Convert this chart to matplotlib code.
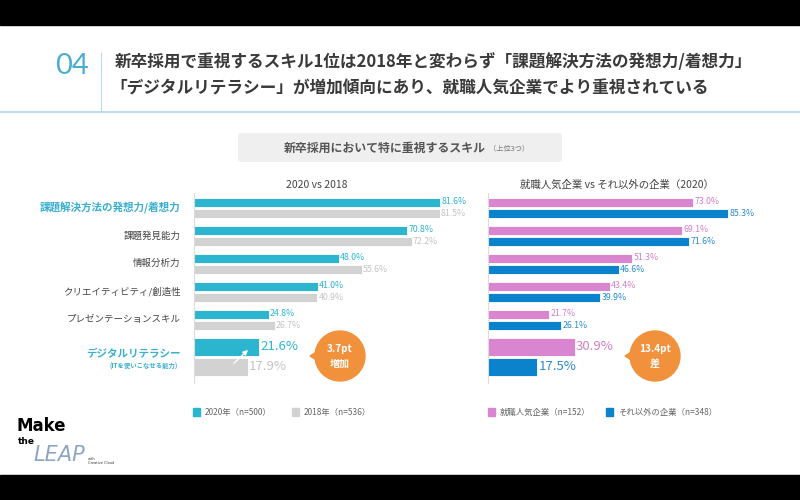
import numpy as np
import matplotlib.pyplot as plt
from matplotlib.patches import FancyBboxPatch, Circle, Polygon, Rectangle

plt.rcParams['font.family'] = ['Noto Sans CJK JP', 'DejaVu Sans']

# data
skills = ['課題解決方法の発想力/着想力', '課題発見能力', '情報分析力',
          'クリエイティビティ/創造性', 'プレゼンテーションスキル', 'デジタルリテラシー']
y2020 = [81.6, 70.8, 48.0, 41.0, 24.8, 21.6]
y2018 = [81.5, 72.2, 55.6, 40.9, 26.7, 17.9]
popular = [73.0, 69.1, 51.3, 43.4, 21.7, 30.9]
others = [85.3, 71.6, 46.6, 39.9, 26.1, 17.5]
legend_left = ['2020年（n=500）', '2018年（n=536）']
legend_right = ['就職人気企業（n=152）', 'それ以外の企業（n=348）']

TEAL = '#2cb5cf'
GRAY = '#d2d2d2'
PINK = '#d985cf'
BLUE = '#0b83cc'
ORANGE = '#f2913c'
HL = '#3aafd0'

fig = plt.figure(figsize=(8, 5), dpi=100)
bg = fig.add_axes([0, 0, 1, 1])
bg.set_xlim(0, 800)
bg.set_ylim(500, 0)
bg.axis('off')

# black letterbox
bg.add_patch(Rectangle((0, 0), 800, 25, color='black'))
bg.add_patch(Rectangle((0, 475), 800, 25, color='black'))

# header
bg.text(72, 66, '04', fontsize=21, color='#4aaed0', ha='center', va='center',
        family=['Lato', 'DejaVu Sans'])
bg.plot([101, 101], [53, 111], color='#bcdbe6', lw=0.8)
bg.text(115, 62, '新卒採用で重視するスキル1位は2018年と変わらず「課題解決方法の発想力/着想力」',
        fontsize=12, fontweight='bold', color='#3a3a3a', va='center')
bg.text(110, 89, '「デジタルリテラシー」が増加傾向にあり、就職人気企業でより重視されている',
        fontsize=12, fontweight='bold', color='#3a3a3a', va='center')
bg.plot([0, 800], [112, 112], color='#a9d8e8', lw=1.2)

# subtitle box
bg.add_patch(FancyBboxPatch((238, 133), 324, 29, boxstyle='round,pad=0,rounding_size=4',
                            fc='#efefef', ec='none'))
bg.text(486, 148, '新卒採用において特に重視するスキル', fontsize=8.6, fontweight='bold',
        color='#555555', ha='right', va='center')
bg.text(489, 149, '（上位3つ）', fontsize=5.2, color='#777777', ha='left', va='center')

bg.text(317, 185, '2020 vs 2018', fontsize=7.5, color='#444444', ha='center', va='center')
bg.text(617, 185, '就職人気企業 vs それ以外の企業（2020）', fontsize=7.5, color='#444444',
        ha='center', va='center')

# group positions (pixels from first group centre)
pos = np.arange(len(skills)) * 28.0
pos[-1] += 9.5
h = np.array([9.0] * 5 + [18.0])
off = np.array([5.5] * 5 + [10.0])


def make_axes(x0, scale):
    ax = fig.add_axes([x0 / 800, 1 - 383 / 500, 270 / 800, 190 / 500])
    ax.set_xlim(0, 270 / scale)
    ax.set_ylim(383 - 207.5, 193 - 207.5)
    ax.patch.set_alpha(0)
    for s in ['top', 'right', 'bottom']:
        ax.spines[s].set_visible(False)
    ax.spines['left'].set_color('#dddddd')
    ax.spines['left'].set_linewidth(0.8)
    ax.set_xticks([])
    ax.set_yticks([])
    return ax


def draw_pair(ax, top, bot, ctop, cbot, ltop, lbot):
    ax.barh(pos - off, top, height=h, color=ctop, edgecolor='white', linewidth=0.6)
    ax.barh(pos + off, bot, height=h, color=cbot, edgecolor='white', linewidth=0.6)
    for i in range(len(top)):
        fs = 9.5 if i == len(top) - 1 else 6.3
        ax.text(top[i] + 0.4, pos[i] - off[i], f'{top[i]:.1f}%', fontsize=fs, color=ltop,
                va='center', ha='left')
        ax.text(bot[i] + 0.4, pos[i] + off[i], f'{bot[i]:.1f}%', fontsize=fs, color=lbot,
                va='center', ha='left')


axL = make_axes(194, 3.015)
draw_pair(axL, y2020, y2018, TEAL, GRAY, TEAL, '#c4c4c4')
axR = make_axes(488, 2.814)
draw_pair(axR, popular, others, PINK, BLUE, '#d27fc8', '#2a8bcb')

# category labels
for i, name in enumerate(skills):
    if i == 0:
        axL.text(-4.5, pos[i], name, fontsize=7.6, fontweight='bold', color=HL,
                 ha='right', va='center')
    elif i == len(skills) - 1:
        axL.text(-4.5, pos[i] - 3, name, fontsize=7.6, fontweight='bold', color=HL,
                 ha='right', va='center')
        axL.text(-5.5, pos[i] + 9, '(ITを使いこなせる能力)', fontsize=4.6, fontweight='bold',
                 color=HL, ha='right', va='center')
    else:
        axL.text(-4.5, pos[i], name, fontsize=6.8, color='#444444', ha='right', va='center')

# white arrow over the digital literacy bars
axL.annotate('', xy=(18.6, pos[-1] - 9), xytext=(12.6, pos[-1] + 8),
             arrowprops=dict(arrowstyle='-|>', color='white', lw=1.0, mutation_scale=7))


def callout(cx, cy, r, l1, l2):
    bg.add_patch(Polygon([[cx - r - 5, cy], [cx - r + 3, cy - 5], [cx - r + 3, cy + 5]],
                         closed=True, color=ORANGE))
    bg.add_patch(Circle((cx, cy), r, color=ORANGE))
    bg.text(cx, cy - 7, l1, fontsize=7.2, fontweight='bold', color='white', ha='center', va='center')
    bg.text(cx, cy + 8, l2, fontsize=7.2, fontweight='bold', color='white', ha='center', va='center')


callout(340, 356, 25, '3.7pt', '増加')
callout(655, 356, 25, '13.4pt', '差')

# legends
for x, c, t in [(193, TEAL, legend_left[0]), (292, GRAY, legend_left[1]),
                (488, PINK, legend_right[0]), (606, BLUE, legend_right[1])]:
    bg.add_patch(Rectangle((x, 408), 7, 8, color=c))
    bg.text(x + 12, 412, t, fontsize=6, color='#666666', ha='left', va='center')

# logo
bg.text(17, 426, 'Make', fontsize=12, fontweight='bold', color='black', ha='left', va='center',
        family=['DejaVu Sans'])
bg.text(18, 441, 'the', fontsize=6.5, fontweight='bold', color='black', ha='left', va='center',
        family=['DejaVu Sans'])
bg.text(33, 455, 'LEAP', fontsize=15, style='italic', color='#8ea6c4', ha='left', va='center',
        family=['DejaVu Sans'], fontweight='light')
bg.text(88, 461, 'with\nCreative Cloud', fontsize=2.5, color='#333333', ha='left', va='center',
        family=['DejaVu Sans'])

fig.savefig('out.png', dpi=100)
